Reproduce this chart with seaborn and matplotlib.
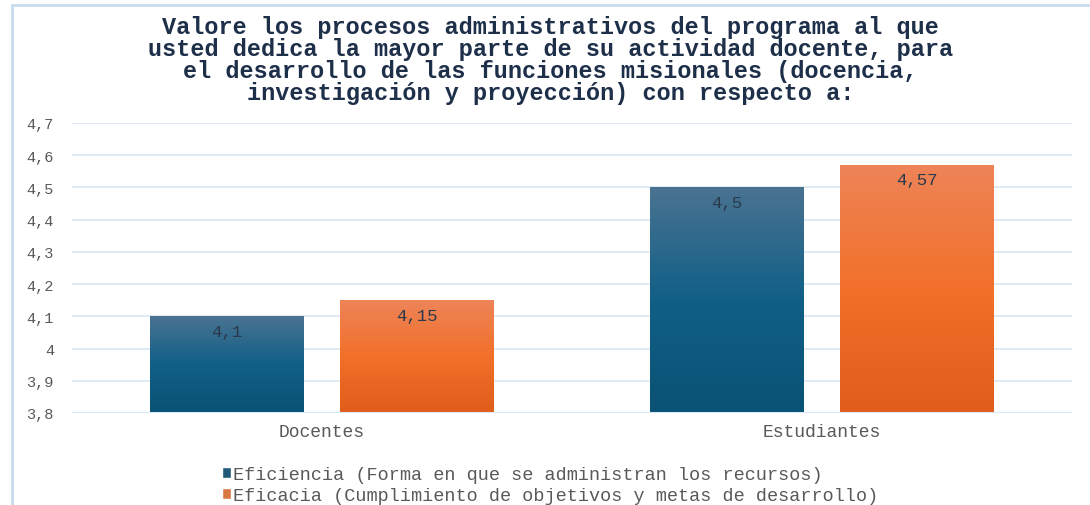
import numpy as np
import pandas as pd
import matplotlib
matplotlib.use('Agg')
import matplotlib.pyplot as plt
import seaborn as sns
from matplotlib.colors import LinearSegmentedColormap
from matplotlib.patches import Rectangle

# ---------------- data ----------------
categories = ['Docentes', 'Estudiantes']
series_names = ['Eficiencia (Forma en que se administran los recursos)',
                'Eficacia (Cumplimiento de objetivos y metas de desarrollo)']
eficiencia = [4.1, 4.5]
eficacia = [4.15, 4.57]
ytick_values = [3.8, 3.9, 4.0, 4.1, 4.2, 4.3, 4.4, 4.5, 4.6, 4.7]
ytick_labels = ['3,8', '3,9', '4', '4,1', '4,2', '4,3', '4,4', '4,5', '4,6', '4,7']
title = ("Valore los procesos administrativos del programa al que\n"
         "usted dedica la mayor parte de su actividad docente, para\n"
         "el desarrollo de las funciones misionales (docencia,\n"
         "investigación y proyección) con respecto a:")

df = pd.DataFrame({
    'categoria': categories * 2,
    'serie': [series_names[0]] * len(categories) + [series_names[1]] * len(categories),
    'valor': eficiencia + eficacia,
})

# ---------------- style ----------------
sns.set_theme(style='white')
plt.rcParams['font.family'] = ['Liberation Mono', 'DejaVu Sans Mono']

base_colors = ['#135F86', '#F2702A']
grad_stops = [
    ['#0A5275', '#115F87', '#4A7391'],
    ['#E05C1A', '#F2702A', '#EE8458'],
]
grid_color = '#D9E6F3'
text_grey = '#595959'

W, H = 1090, 506
fig = plt.figure(figsize=(W / 100, H / 100), dpi=100)
fig.patch.set_facecolor('white')

# outer chart border (left and top visible)
fig.add_artist(Rectangle((12 / W, -0.1), 1.2, 1 - 5.5 / H + 0.1,
                         transform=fig.transFigure, fill=False,
                         edgecolor='#C9DCEF', linewidth=2.0))

ax = fig.add_axes([72 / W, 1 - 414 / H, 1000 / W, 290 / H])

sns.barplot(data=df, x='categoria', y='valor', hue='serie',
            hue_order=series_names, palette=base_colors,
            width=0.76, gap=0.19, ax=ax, legend=True, zorder=3)

ymin, ymax = 3.8, 4.7
ax.set_ylim(ymin, ymax)
ax.set_xlim(-0.5, 1.5)

# gradient fill clipped to each bar
for ci, cont in enumerate(ax.containers):
    cmap = LinearSegmentedColormap.from_list('g%d' % ci, grad_stops[ci])
    grad = np.linspace(0, 1, 256).reshape(-1, 1)
    for bar in cont:
        x0 = bar.get_x()
        w = bar.get_width()
        top = bar.get_y() + bar.get_height()
        im = ax.imshow(grad, cmap=cmap, origin='lower', aspect='auto',
                       extent=[x0, x0 + w, ymin, top], zorder=4)
        im.set_clip_path(bar)
        bar.set_edgecolor('none')
        # data label inside the bar near its top
        lab = ('%g' % bar.get_height()).replace('.', ',')
        ax.annotate(lab, xy=(x0 + w / 2, top), xytext=(0, -15),
                    textcoords='offset pixels', ha='center', va='center',
                    fontsize=12.5, color='#2A3A4C', zorder=6)

ax.set_ylim(ymin, ymax)
ax.set_xlim(-0.5, 1.5)

ax.set_yticks(ytick_values)
ax.set_yticklabels(ytick_labels)
ax.tick_params(axis='y', length=0, pad=13, labelsize=11, labelcolor=text_grey)
ax.tick_params(axis='x', length=0, pad=7, labelsize=13, labelcolor=text_grey)
ax.set_xlabel('')
ax.set_ylabel('')
ax.yaxis.grid(True, color=grid_color, linewidth=1.2, zorder=0)
ax.set_axisbelow(True)
for s in ax.spines.values():
    s.set_visible(False)
ax.axhline(ymin, color=grid_color, linewidth=1.5, zorder=5)

# legend
handles, labels = ax.get_legend_handles_labels()
ax.get_legend().remove()
fig.legend(handles, labels, loc='upper left',
           bbox_to_anchor=(222 / W, 1 - 467 / H), frameon=False,
           handlelength=0.5, handleheight=0.5, handletextpad=0.12,
           labelspacing=0.22, fontsize=13.3, labelcolor=text_grey,
           borderaxespad=0, borderpad=0)

# title
fig.text(0.505, 1 - 60.5 / H, title, ha='center', va='center',
         multialignment='center', fontsize=16.9, fontweight='bold',
         color='#1E2F4A', linespacing=0.96)

fig.savefig('out.png', dpi=100, facecolor='white')
